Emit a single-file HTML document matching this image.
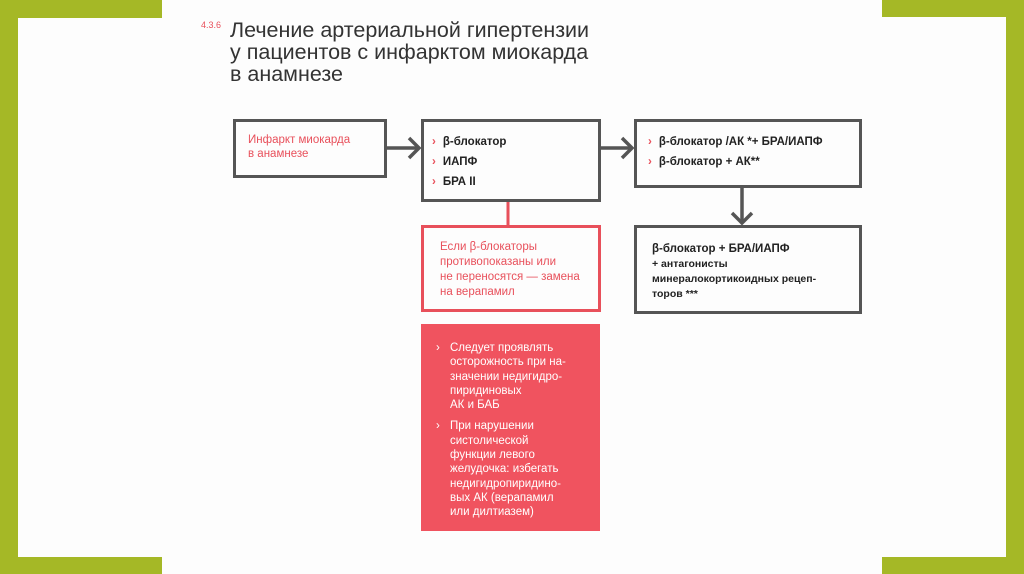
<!DOCTYPE html>
<html><head><meta charset="utf-8"><style>
body{margin:0;width:1024px;height:574px;position:relative;background:#fdfdfd;font-family:"Liberation Sans",sans-serif;overflow:hidden}
.g{position:absolute;background:#a5b826}
.a{position:absolute}
.box{position:absolute;box-sizing:border-box;border:3px solid #555}
.t{position:absolute;font-size:11.5px;line-height:18px;color:#222;font-weight:bold}
.r{color:#e8505b}
.b{color:#e8505b;margin-right:7px;font-weight:bold}
</style></head><body>
<div class="g" style="left:0;top:0;width:162px;height:18px"></div>
<div class="g" style="left:0;top:0;width:18px;height:574px"></div>
<div class="g" style="left:0;top:557px;width:162px;height:17px"></div>
<div class="g" style="left:882px;top:0;width:142px;height:17px"></div>
<div class="g" style="left:1006px;top:0;width:18px;height:574px"></div>
<div class="g" style="left:882px;top:557px;width:142px;height:17px"></div>

<div class="a" style="left:201px;top:20px;font-size:9px;color:#e8505b">4.3.6</div>
<div class="a" style="left:230px;top:19px;font-size:21.5px;line-height:22px;color:#333">Лечение артериальной гипертензии<br>у пациентов с инфарктом миокарда<br>в анамнезе</div>

<div class="box" style="left:233px;top:119px;width:154px;height:59px"></div>
<div class="t r" style="left:248px;top:133px;font-weight:normal;line-height:14px">Инфаркт миокарда<br>в анамнезе</div>

<div class="box" style="left:421px;top:119px;width:180px;height:83px"></div>
<div class="t" style="left:432px;top:132px;line-height:20px"><span class="b">›</span>β-блокатор<br><span class="b">›</span>ИАПФ<br><span class="b">›</span>БРА II</div>

<div class="box" style="left:634px;top:119px;width:228px;height:69px"></div>
<div class="t" style="left:648px;top:132px;line-height:20px"><span class="b">›</span>β-блокатор /АК *+ БРА/ИАПФ<br><span class="b">›</span>β-блокатор + АК**</div>

<div class="box" style="left:634px;top:225px;width:228px;height:89px"></div>
<div class="t" style="left:652px;top:242px;line-height:15px">β-блокатор + БРА/ИАПФ<br><span style="font-size:10.5px">+ антагонисты<br>минералокортикоидных рецеп-<br>торов ***</span></div>

<div class="box" style="left:421px;top:225px;width:180px;height:87px;border-color:#e8505b"></div>
<div class="t r" style="left:440px;top:240px;font-weight:normal;line-height:15px">Если β-блокаторы<br>противопоказаны или<br>не переносятся — замена<br>на верапамил</div>

<div class="a" style="left:421px;top:324px;width:179px;height:207px;background:#f0535f"></div>
<div class="t" style="left:436px;top:341px;color:#fff;font-weight:normal;font-size:11.5px;line-height:14.3px">
<div style="position:relative;padding-left:14px"><span style="position:absolute;left:0">›</span>Следует проявлять<br>осторожность при на-<br>значении недигидро-<br>пиридиновых<br>АК и БАБ</div>
<div style="position:relative;padding-left:14px;margin-top:7px"><span style="position:absolute;left:0">›</span>При нарушении<br>систолической<br>функции левого<br>желудочка: избегать<br>недигидропиридино-<br>вых АК (верапамил<br>или дилтиазем)</div>
</div>

<svg class="a" style="left:0;top:0" width="1024" height="574">
<g stroke="#555" stroke-width="3.5" fill="none">
<line x1="387" y1="148" x2="419" y2="148"/><polyline points="409,138 419,148 409,158"/>
<line x1="601" y1="148" x2="632" y2="148"/><polyline points="622,138 632,148 622,158"/>
<line x1="742" y1="188" x2="742" y2="223"/><polyline points="732,213 742,223 752,213"/>
</g>
<line x1="508" y1="202" x2="508" y2="225" stroke="#e8505b" stroke-width="3"/>
</svg>
</body></html>
